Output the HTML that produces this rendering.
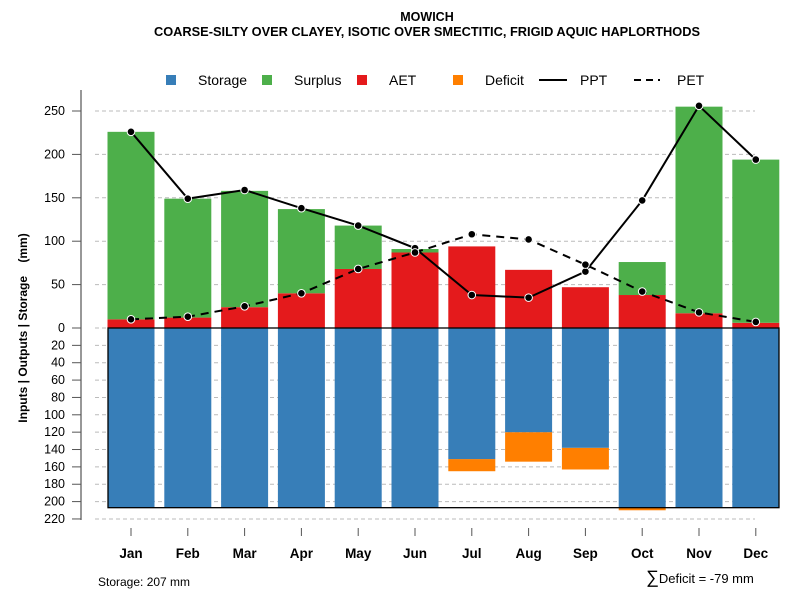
<!DOCTYPE html>
<html><head><meta charset="utf-8"><style>
body{margin:0;background:#fff;font-family:"Liberation Sans",sans-serif;}
svg text{font-family:"Liberation Sans",sans-serif;}
</style></head><body>
<svg id="chart" width="800" height="600" xmlns="http://www.w3.org/2000/svg">
<text x="427" y="21" text-anchor="middle" font-size="12.5" font-weight="bold">MOWICH</text>
<text x="427" y="36" text-anchor="middle" font-size="12.8" font-weight="bold">COARSE-SILTY OVER CLAYEY, ISOTIC OVER SMECTITIC, FRIGID AQUIC HAPLORTHODS</text>
<g>
<rect x="166" y="75" width="10" height="10" fill="#377eb8"/>
<text x="198" y="85" font-size="14">Storage</text>
<rect x="262" y="75" width="10" height="10" fill="#4daf4a"/>
<text x="294" y="85" font-size="14">Surplus</text>
<rect x="357" y="75" width="10" height="10" fill="#e41a1c"/>
<text x="389" y="85" font-size="14">AET</text>
<rect x="453" y="75" width="10" height="10" fill="#ff7f00"/>
<text x="485" y="85" font-size="14">Deficit</text>
<line x1="539" y1="80" x2="567" y2="80" stroke="#000" stroke-width="2"/>
<text x="580" y="85" font-size="14">PPT</text>
<line x1="634" y1="80" x2="660" y2="80" stroke="#000" stroke-width="2" stroke-dasharray="7,5"/>
<text x="677" y="85" font-size="14">PET</text>
</g>
<text transform="translate(27,328) rotate(-90)" text-anchor="middle" font-size="12" font-weight="bold">Inputs | Outputs | Storage&#160;&#160;&#160;&#160;(mm)</text>
<g id="grid"></g><g id="bars"></g><g id="lines"></g><g id="axes"></g>
<text x="98" y="586" font-size="12">Storage: 207 mm</text>
<text x="646" y="583" font-size="13"><tspan font-size="18">∑</tspan>Deficit = -79 mm</text>
</svg>
<script>
const months=["Jan","Feb","Mar","Apr","May","Jun","Jul","Aug","Sep","Oct","Nov","Dec"];
const aet=[10,12,24,40,68,87,94,67,47,38,17,6];
const surplus=[216,137,134,97,50,4,0,0,0,38,238,188];
const storage=[207,207,207,207,207,207,151,120,138,207,207,207];
const deficit=[0,0,0,0,0,0,14,34,25,3,0,0];
const ppt=[226,149,159,138,118,92,38,35,65,147,256,194];
const pet=[10,13,25,40,68,87,108,102,73,42,18,7];
const upTicks=[0,50,100,150,200,250];
const downTicks=[20,40,60,80,100,120,140,160,180,200,220];
const NS="http://www.w3.org/2000/svg";
const y0=328,k=0.868;
const yU=v=>y0-v*k, yD=v=>y0+v*k;
const xC=i=>131+i*56.8, bw=47;
function mk(tag,attrs,parent){const e=document.createElementNS(NS,tag);for(const a in attrs)e.setAttribute(a,attrs[a]);document.getElementById(parent).appendChild(e);return e;}
upTicks.forEach(t=>{const e=mk("line",{x1:95,x2:755,y1:yU(t),y2:yU(t),stroke:"#bbb","stroke-dasharray":"4,3"},"grid");

});
downTicks.forEach(t=>{const e=mk("line",{x1:95,x2:755,y1:yD(t),y2:yD(t),stroke:"#bbb","stroke-dasharray":"4,3"},"grid");

});
months.forEach((m,i)=>{const x=xC(i)-bw/2;let e;
e=mk("rect",{x:x,y:yU(aet[i]),width:bw,height:aet[i]*k,fill:"#e41a1c"},"bars");


if(surplus[i]>0){e=mk("rect",{x:x,y:yU(aet[i]+surplus[i]),width:bw,height:surplus[i]*k,fill:"#4daf4a"},"bars");

}
if(deficit[i]>0){e=mk("rect",{x:x,y:yD(storage[i]),width:bw,height:deficit[i]*k,fill:"#ff7f00"},"bars");

}
e=mk("rect",{x:x,y:y0,width:bw,height:storage[i]*k,fill:"#377eb8"},"bars");


});
let e=mk("rect",{x:108,y:y0,width:671,height:207*k,fill:"none",stroke:"#000","stroke-width":1.3},"bars");


e=mk("polyline",{points:pet.map((v,i)=>xC(i)+","+yU(v)).join(" "),fill:"none",stroke:"#000","stroke-width":2,"stroke-dasharray":"8,6"},"lines");


e=mk("polyline",{points:ppt.map((v,i)=>xC(i)+","+yU(v)).join(" "),fill:"none",stroke:"#000","stroke-width":2},"lines");


[ppt,pet].forEach((s,j)=>s.forEach((v,i)=>{const c=mk("circle",{cx:xC(i),cy:yU(v),r:3.8,fill:"#000",stroke:"#fff","stroke-width":1},"lines");

}));
e=mk("line",{x1:81,x2:81,y1:90,y2:520,stroke:"#777","stroke-width":1.5},"axes");


upTicks.forEach(t=>{let l=mk("line",{x1:72,x2:81,y1:yU(t),y2:yU(t),stroke:"#555"},"axes");


let tx=mk("text",{x:65,y:yU(t)+4,"text-anchor":"end","font-size":12.5},"axes");tx.textContent=t;

});
downTicks.forEach(t=>{let l=mk("line",{x1:72,x2:81,y1:yD(t),y2:yD(t),stroke:"#555"},"axes");


let tx=mk("text",{x:65,y:yD(t)+4,"text-anchor":"end","font-size":12.5},"axes");tx.textContent=t;

});
months.forEach((m,i)=>{let l=mk("line",{x1:xC(i),x2:xC(i),y1:528,y2:536,stroke:"#555"},"axes");


let tx=mk("text",{x:xC(i),y:558,"text-anchor":"middle","font-size":13.5,"font-weight":"bold"},"axes");tx.textContent=m;

});
</script>
</body></html>
